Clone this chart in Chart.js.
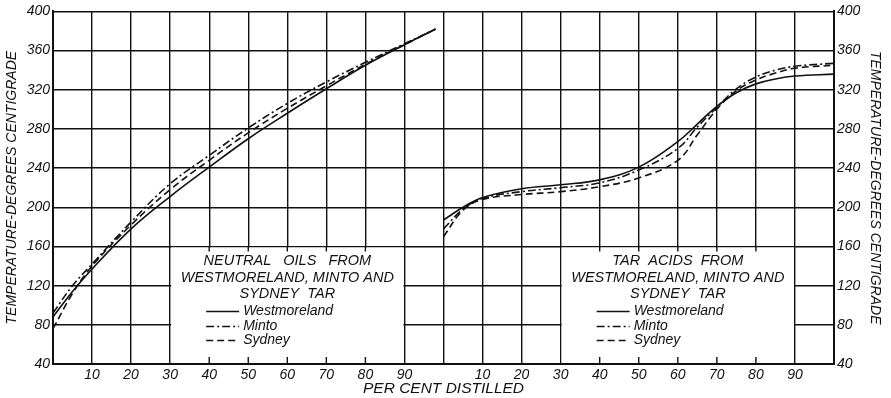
<!DOCTYPE html>
<html>
<head>
<meta charset="utf-8">
<script src="https://cdn.jsdelivr.net/npm/chart.js@4/dist/chart.umd.min.js"></script>
<style>
  html, body { margin: 0; padding: 0; background: #fff; }
  #wrap { width: 891px; height: 398px; }
</style>
</head>
<body>
<div id="wrap"><canvas id="c" width="891" height="398"></canvas></div>
<script>
// Distillation curves: neutral oils (left panel) and tar acids (right panel)
const pctNeutral = [0, 5, 10, 20, 30, 40, 50, 60, 70, 80, 90, 98];
const neutralWestmoreland = [88, 114, 137, 178, 211, 241, 270, 296, 321, 345, 366, 382];
const neutralMinto = [92, 120, 142, 185, 224, 253, 281, 306, 328, 348, 367, 382];
const neutralSydney = [76, 112, 140, 182, 218, 248, 276, 301, 324, 346, 366, 382];

const pctAcids = [0, 5, 10, 20, 30, 40, 50, 60, 65, 70, 75, 80, 85, 90, 100];
const acidsWestmoreland = [187, 200, 210, 219, 223, 228, 241, 267, 285, 303, 317, 326, 331, 334, 336];
const acidsMinto = [178, 198, 209, 216, 220, 225, 238, 260, 282, 302, 321, 333, 340, 344, 347];
const acidsSydney = [170, 197, 208, 213, 216, 221, 230, 248, 274, 300, 319, 330, 337, 342, 345];

const panelTickLabels = ['', '10', '20', '30', '40', '50', '60', '70', '80', '90'];
const seriesNames = ['Westmoreland', 'Minto', 'Sydney'];
const neutralTitle = ['NEUTRAL   OILS   FROM', 'WESTMORELAND, MINTO AND', 'SYDNEY  TAR'];
const acidsTitle = ['TAR  ACIDS  FROM', 'WESTMORELAND, MINTO AND', 'SYDNEY  TAR'];

// the second panel sits to the right of the first on a shared 0-200 axis
const PANEL_SHIFT = 100;
const INK = '#111';
const FONT = '"Liberation Sans", Arial, sans-serif';
const dashes = [[], [8, 3, 2, 3], [7, 4]];

function points(xs, ys, shift) {
  return xs.map((p, i) => ({ x: p + shift, y: ys[i] }));
}

function series(label, xs, ys, shift, k) {
  return {
    label,
    data: points(xs, ys, shift),
    borderColor: INK,
    borderWidth: 1.6,
    borderDash: dashes[k],
    pointRadius: 0,
    fill: false,
    tension: 0.4
  };
}

const datasets = [
  series(seriesNames[0], pctNeutral, neutralWestmoreland, 0, 0),
  series(seriesNames[1], pctNeutral, neutralMinto, 0, 1),
  series(seriesNames[2], pctNeutral, neutralSydney, 0, 2),
  series(seriesNames[0], pctAcids, acidsWestmoreland, PANEL_SHIFT, 0),
  series(seriesNames[1], pctAcids, acidsMinto, PANEL_SHIFT, 1),
  series(seriesNames[2], pctAcids, acidsSydney, PANEL_SHIFT, 2)
];

// key boxes drawn inside each panel, blanking the grid beneath them
const keyBoxes = [
  { shift: 0, title: neutralTitle },
  { shift: PANEL_SHIFT, title: acidsTitle }
];
const KEY_SPAN = { x0: 30, x1: 90, y0: 40, y1: 160 };

const keyPlugin = {
  id: 'keyBoxes',
  beforeDatasetsDraw(chart) {
    const { ctx } = chart;
    const xs = chart.scales.x, ys = chart.scales.y;
    ctx.save();
    keyBoxes.forEach(box => {
      const L = xs.getPixelForValue(box.shift + KEY_SPAN.x0);
      const R = xs.getPixelForValue(box.shift + KEY_SPAN.x1);
      const T = ys.getPixelForValue(KEY_SPAN.y1);
      const B = ys.getPixelForValue(KEY_SPAN.y0);
      ctx.fillStyle = '#fff';
      ctx.fillRect(L + 1, T + 1, R - L - 2, B - T - 2);
      // grid stubs along top and bottom edges
      ctx.strokeStyle = INK;
      ctx.lineWidth = 1.4;
      for (let v = KEY_SPAN.x0 + 10; v < KEY_SPAN.x1; v += 10) {
        const x = xs.getPixelForValue(box.shift + v);
        ctx.beginPath();
        ctx.moveTo(x, T); ctx.lineTo(x, T + 5);
        ctx.moveTo(x, B); ctx.lineTo(x, B - 7);
        ctx.stroke();
      }
      // heading
      const cx = (L + R) / 2;
      ctx.fillStyle = INK;
      ctx.textAlign = 'center';
      ctx.textBaseline = 'middle';
      ctx.font = 'italic 14.5px ' + FONT;
      const rows = [15, 32, 48];
      box.title.forEach((t, i) => ctx.fillText(t, cx, T + rows[i]));
      // series key
      const keyRows = [65, 80, 94];
      ctx.textAlign = 'left';
      ctx.font = 'italic 14px ' + FONT;
      seriesNames.forEach((name, i) => {
        const y = T + keyRows[i];
        ctx.beginPath();
        ctx.setLineDash(dashes[i]);
        ctx.lineWidth = 1.6;
        ctx.moveTo(L + 36, y);
        ctx.lineTo(L + 69, y);
        ctx.stroke();
        ctx.setLineDash([]);
        ctx.fillText(name, L + 73, y);
      });
    });
    ctx.restore();
  }
};

const tickFont = { family: FONT, size: 14, style: 'italic', lineHeight: 1.2 };
const titleFont = { family: FONT, size: 14, style: 'italic', lineHeight: 1.2 };

new Chart(document.getElementById('c'), {
  type: 'line',
  data: { datasets },
  plugins: [keyPlugin],
  options: {
    responsive: false,
    animation: false,
    devicePixelRatio: 1,
    layout: { padding: { top: 11, left: 0, right: 0, bottom: 0 } },
    plugins: { legend: { display: false }, tooltip: { enabled: false } },
    scales: {
      x: {
        type: 'linear',
        min: 0,
        max: 200,
        afterFit(s) { s.height = 34; },
        ticks: {
          stepSize: 10,
          autoSkip: false,
          maxRotation: 0,
          padding: 3,
          color: INK,
          font: tickFont,
          callback: v => panelTickLabels[Math.round(v % PANEL_SHIFT) / 10]
        },
        grid: { color: INK, lineWidth: 1.4, drawTicks: false },
        border: { color: INK, width: 2 },
        title: {
          display: true,
          text: 'PER CENT DISTILLED',
          color: INK,
          font: { family: FONT, size: 15.5, style: 'italic', lineHeight: 1.2 },
          padding: { top: 0, bottom: 0 }
        }
      },
      y: {
        type: 'linear',
        position: 'left',
        min: 40,
        max: 400,
        afterFit(s) { s.width = 53; },
        ticks: { stepSize: 40, padding: 3, color: INK, font: tickFont },
        grid: { color: INK, lineWidth: 1.4, drawTicks: false },
        border: { color: INK, width: 2 },
        title: {
          display: true,
          text: 'TEMPERATURE-DEGREES CENTIGRADE',
          color: INK,
          font: titleFont,
          padding: { top: 3.6, bottom: 0 }
        }
      },
      y2: {
        type: 'linear',
        position: 'right',
        min: 40,
        max: 400,
        afterFit(s) { s.width = 57; },
        ticks: { stepSize: 40, padding: 3, color: INK, font: tickFont },
        grid: { display: false, drawTicks: false },
        border: { color: INK, width: 2 },
        title: {
          display: true,
          text: 'TEMPERATURE-DEGREES CENTIGRADE',
          color: INK,
          font: titleFont,
          padding: { top: 7.6, bottom: 0 }
        }
      }
    }
  }
});
</script>
</body>
</html>
